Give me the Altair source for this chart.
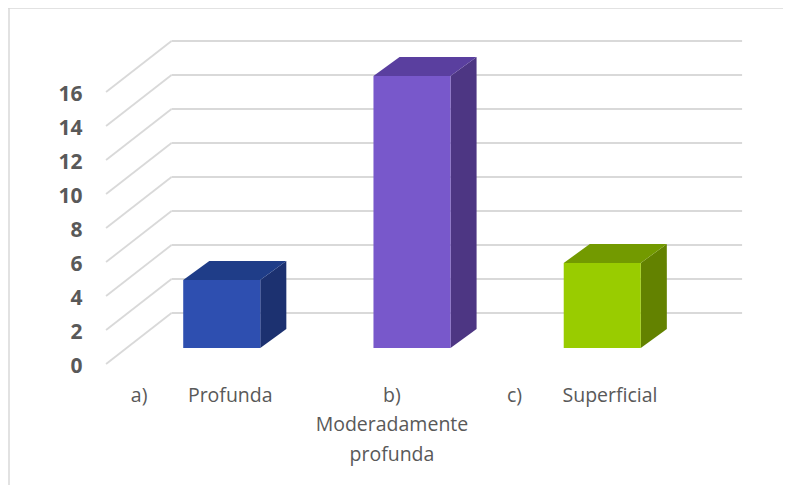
import json
import altair as alt
import pandas as pd

# ---------------- data ----------------
categories = ["a) Profunda", "b) Moderadamente profunda", "c) Superficial"]
NB = "\u00a0" * 8
label_lines = [["a)" + NB + "Profunda"], ["b)", "Moderadamente", "profunda"], ["c)" + NB + "Superficial"]]
values = [4, 16, 5]
front_colors = ["#2E4FB0", "#7858CB", "#99CC00"]
top_colors = ["#1F3D88", "#5A3F9F", "#739A00"]
side_colors = ["#1C3170", "#4D3683", "#638200"]
y_ticks = [0, 2, 4, 6, 8, 10, 12, 14, 16]

# ---------------- layout (data units) ----------------
W, H = 775, 477
positions = [1, 2, 3]            # category slots
BAR_W = 0.405                    # front face width
FLOOR_V = 0.94                   # height of bar base in front-plane units
BAR_DX, BAR_DY = 0.137, 1.118    # bar depth
WALL_DX, WALL_DY = 0.344, 3.0    # floor depth (front plane -> back wall)
FRONT_X = 0.392                  # front edge of the floor
GRID_END = 3.735                 # right end of back wall
LABEL_SHIFT = 0.108              # category label sits on front plane

xs = alt.Scale(domain=[-0.1235, (W - 23.5) / 190.25], nice=False, zero=False)
ys = alt.Scale(domain=[(356 - H) / 17, 356 / 17], nice=False, zero=False)

label_expr = json.dumps(label_lines, ensure_ascii=False) + "[round(datum.value) - 1]"
x_axis = alt.Axis(
    title=None, orient="bottom", offset=-(H - 378), domain=False, ticks=False, tickSize=0,
    grid=False, values=[p - LABEL_SHIFT for p in positions], labelExpr=label_expr,
    labelFont="Open Sans", labelFontSize=19.5, labelColor="#595959",
    labelPadding=0, labelBaseline="top", labelLineHeight=29.5,
    labelOverlap=False, labelFlush=False, labelAlign="center",
)
y_axis = alt.Axis(
    title=None, orient="left", offset=-74, domain=False, ticks=False, tickSize=0,
    grid=False, values=y_ticks, labelFont="Open Sans", labelFontSize=21,
    labelFontWeight="bold", labelColor="#595959", labelPadding=0, labelOffset=2,
    labelOverlap=False, labelFlush=False,
)

# ---------------- tables ----------------
grid_rows = []
for t in y_ticks:
    grid_rows.append({"x": FRONT_X, "y": t, "x2": FRONT_X + WALL_DX, "y2": t + WALL_DY})
    grid_rows.append({"x": FRONT_X + WALL_DX, "y": t + WALL_DY, "x2": GRID_END, "y2": t + WALL_DY})
grid_df = pd.DataFrame(grid_rows)

front_df = pd.DataFrame({
    "cat": categories,
    "x": [p - BAR_W / 2 for p in positions],
    "x2": [p + BAR_W / 2 for p in positions],
    "y": [FLOOR_V] * 3,
    "y2": [FLOOR_V + v for v in values],
    "c": front_colors,
})

side_rows, top_rows = [], []
for cat, p, v, sc, tc in zip(categories, positions, values, side_colors, top_colors):
    r = p + BAR_W / 2
    l = p - BAR_W / 2
    side_rows.append({"cat": cat, "x": r, "lo": FLOOR_V, "hi": FLOOR_V + v, "c": sc})
    side_rows.append({"cat": cat, "x": r + BAR_DX, "lo": FLOOR_V + BAR_DY, "hi": FLOOR_V + v + BAR_DY, "c": sc})
    top_rows.append({"cat": cat, "y": FLOOR_V + v, "xl": l, "xr": r, "c": tc})
    top_rows.append({"cat": cat, "y": FLOOR_V + v + BAR_DY, "xl": l + BAR_DX, "xr": r + BAR_DX, "c": tc})
side_df = pd.DataFrame(side_rows)
top_df = pd.DataFrame(top_rows)

# ---------------- layers ----------------
grid = alt.Chart(grid_df).mark_rule(color="#d9d9d9", strokeWidth=1.8).encode(
    x=alt.X("x:Q", scale=xs, axis=x_axis), x2="x2:Q",
    y=alt.Y("y:Q", scale=ys, axis=y_axis), y2="y2:Q",
)

front = alt.Chart(front_df).mark_rect().encode(
    x=alt.X("x:Q", scale=xs, axis=x_axis), x2="x2:Q",
    y=alt.Y("y:Q", scale=ys, axis=y_axis), y2="y2:Q",
    color=alt.Color("c:N", scale=None),
)

side = alt.Chart(side_df).mark_area(orient="vertical", interpolate="linear").encode(
    x=alt.X("x:Q", scale=xs, axis=x_axis),
    y=alt.Y("lo:Q", scale=ys, axis=y_axis, stack=None), y2="hi:Q",
    color=alt.Color("c:N", scale=None), detail="cat:N",
)

top = alt.Chart(top_df).mark_area(orient="horizontal", interpolate="linear").encode(
    y=alt.Y("y:Q", scale=ys, axis=y_axis),
    x=alt.X("xl:Q", scale=xs, axis=x_axis, stack=None), x2="xr:Q",
    color=alt.Color("c:N", scale=None), detail="cat:N",
)

border_data = alt.Data(values=[{}])
border_top = alt.Chart(border_data).mark_rule(color="#d9d9d9", strokeWidth=1.5).encode(
    y=alt.value(0), x=alt.value(0), x2=alt.value(W)
)
border_left = alt.Chart(border_data).mark_rule(color="#d9d9d9", strokeWidth=1.5).encode(
    x=alt.value(1), y=alt.value(0), y2=alt.value(H)
)

chart = alt.layer(grid, side, top, front, border_top, border_left).properties(
    width=W, height=H, padding=0,
    autosize=alt.AutoSizeParams(type="none"),
    background="white",
).configure_view(stroke=None)

chart.save("out.html", embed_options={"renderer": "svg", "actions": False})
